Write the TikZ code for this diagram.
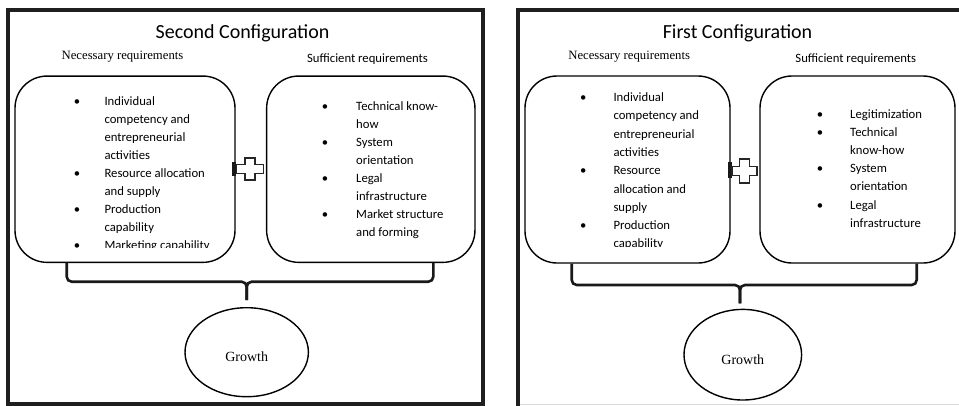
\documentclass[tikz,border=0pt]{standalone}
\usepackage{fontspec}
\setmainfont{Liberation Serif}
\newfontfamily\calib{Carlito}
\usetikzlibrary{shapes.geometric}

% one node per printed line of a bullet list
\newcommand\txtlines[5]{%
  \foreach \t [count=\i from 0] in {#5} {\node[itemline] (#1-\i) at (#2,{#3+\i*#4}) {\t};}}
% bullets in front of chosen lines
\newcommand\bulletrow[5]{%
  \foreach \k in {#5} {\node[bul] (#1-b\k) at (#2,{#3+\k*#4}) {•};}}

\begin{document}
\begin{tikzpicture}[x=1pt,y=-1pt,
  frame/.style={line width=4pt, draw=black!88},
  reqbox/.style={draw, line width=1.4pt, rounded corners=32pt, inner sep=0pt},
  ttl/.style={font=\calib\fontsize{20}{24}\selectfont, anchor=base, inner sep=0pt},
  hdr/.style={font=\fontsize{12.7}{15}\selectfont, anchor=base, inner sep=0pt},
  hdrs/.style={font=\calib\fontsize{12.7}{15}\selectfont, anchor=base, inner sep=0pt},
  itemline/.style={font=\calib\fontsize{12.7}{15}\selectfont, anchor=base west, inner sep=0pt},
  bul/.style={font=\calib\fontsize{12.7}{15}\selectfont, anchor=base, inner sep=0pt},
  brace/.style={line width=2.6pt, rounded corners=5pt, draw=black!90},
  plusmark/.style={line width=1.3pt, draw=black!85, fill=white},
  growth/.style={ellipse, draw, line width=1.4pt, inner sep=0pt,
    font=\fontsize{14}{16}\selectfont, text height=19.3pt, text depth=0pt}
]
\useasboundingbox (0,0) rectangle (959,405);
\clip (0,0) rectangle (959,405);

% ---------- outer frames ----------
\draw[frame] (7.5,9.5) rectangle (483,403.5);
\draw[frame] (518,410) -- (518,9.5) -- (965,9.5);
\draw[black!15, line width=0.8pt] (520,404) -- (959,404);

% ========== Second configuration ==========
\node[ttl] (t2) at (242.5,38.5) {Second Configuration};
\node[hdr] (n2) at (122.5,59) {Necessary requirements};
\node[hdrs] (s2) at (367.5,62.3) {Sufficient requirements};

\node[reqbox, minimum width=220pt, minimum height=186.3pt] (nb2) at (125,169.2) {};
\node[reqbox, minimum width=208.3pt, minimum height=186.3pt] (sb2) at (370.8,169.2) {};

\begin{scope}
  \clip (16,77) rectangle (234,247);
  \txtlines{n2l}{104.3}{105}{18}{Individual,competency and,entrepreneurial,activities,Resource allocation,and supply,Production,capability,Marketing capability}
  \bulletrow{n2l}{77}{105}{18}{0,4,6,8}
\end{scope}
\txtlines{s2l}{356}{110}{18}{Technical know-,how,System,orientation,Legal,infrastructure,Market structure,and forming}
\bulletrow{s2l}{325}{110}{18}{0,2,4,6}

% plus joining the two requirement sets
\fill[black!90] (232,162) rectangle (235.6,176);
\draw[plusmark, shift={(250,169)}] (-13.3,-4.2) -- (-5,-4.2) -- (-5,-11) -- (5,-11) -- (5,-4.2) -- (13.3,-4.2)
  -- (13.3,4.2) -- (5,4.2) -- (5,11) -- (-5,11) -- (-5,4.2) -- (-13.3,4.2) -- cycle;

% brace gathering both sets into growth
\coordinate (b2l) at (66.7,262.5);
\coordinate (b2r) at (433.3,262.5);
\coordinate (b2m) at (246.7,281.7);
\node[growth, minimum width=123.4pt, minimum height=89pt] (g2) at (246.7,352.2) {Growth};
\coordinate (b2t) at (246.7,300);
\draw[brace] (b2l) -- (b2l |- b2m) -- (b2m) -- (b2t);
\draw[brace] (b2r) -- (b2r |- b2m) -- (b2m) -- (b2t);

% ========== First configuration ==========
\node[ttl] (t1) at (737.5,38.5) {First Configuration};
\node[hdr] (n1) at (629.2,59) {Necessary requirements};
\node[hdrs] (s1) at (855.8,62) {Sufficient requirements};

\node[reqbox, minimum width=205pt, minimum height=187pt] (nb1) at (627.5,169.5) {};
\node[reqbox, minimum width=195pt, minimum height=187pt] (sb1) at (857.5,169.5) {};

\begin{scope}
  \clip (526,77) rectangle (729,246.4);
  \txtlines{n1l}{613.3}{101.5}{18.3}{Individual,competency and,entrepreneurial,activities,Resource,allocation and,supply,Production,capability}
  \bulletrow{n1l}{583.3}{101.5}{18.3}{0,4,7}
\end{scope}
\txtlines{s1l}{850}{118}{18.2}{Legitimization,Technical,know-how,System,orientation,Legal,infrastructure}
\bulletrow{s1l}{820}{118}{18.2}{0,1,3,5}

\fill[black!90] (728.3,161.7) rectangle (731.8,178);
\draw[plusmark, shift={(744.5,171)}] (-12.5,-4.5) -- (-5,-4.5) -- (-5,-12) -- (5,-12) -- (5,-4.5) -- (12.5,-4.5)
  -- (12.5,4.5) -- (5,4.5) -- (5,12) -- (-5,12) -- (-5,4.5) -- (-12.5,4.5) -- cycle;

\coordinate (b1l) at (571.7,263.5);
\coordinate (b1r) at (916.7,263.5);
\coordinate (b1m) at (740,285);
\node[growth, minimum width=117.6pt, minimum height=90.6pt] (g1) at (742.8,354.7) {Growth};
\coordinate (b1t) at (740,303.3);
\draw[brace] (b1l) -- (b1l |- b1m) -- (b1m) -- (b1t);
\draw[brace] (b1r) -- (b1r |- b1m) -- (b1m) -- (b1t);
\end{tikzpicture}
\end{document}
